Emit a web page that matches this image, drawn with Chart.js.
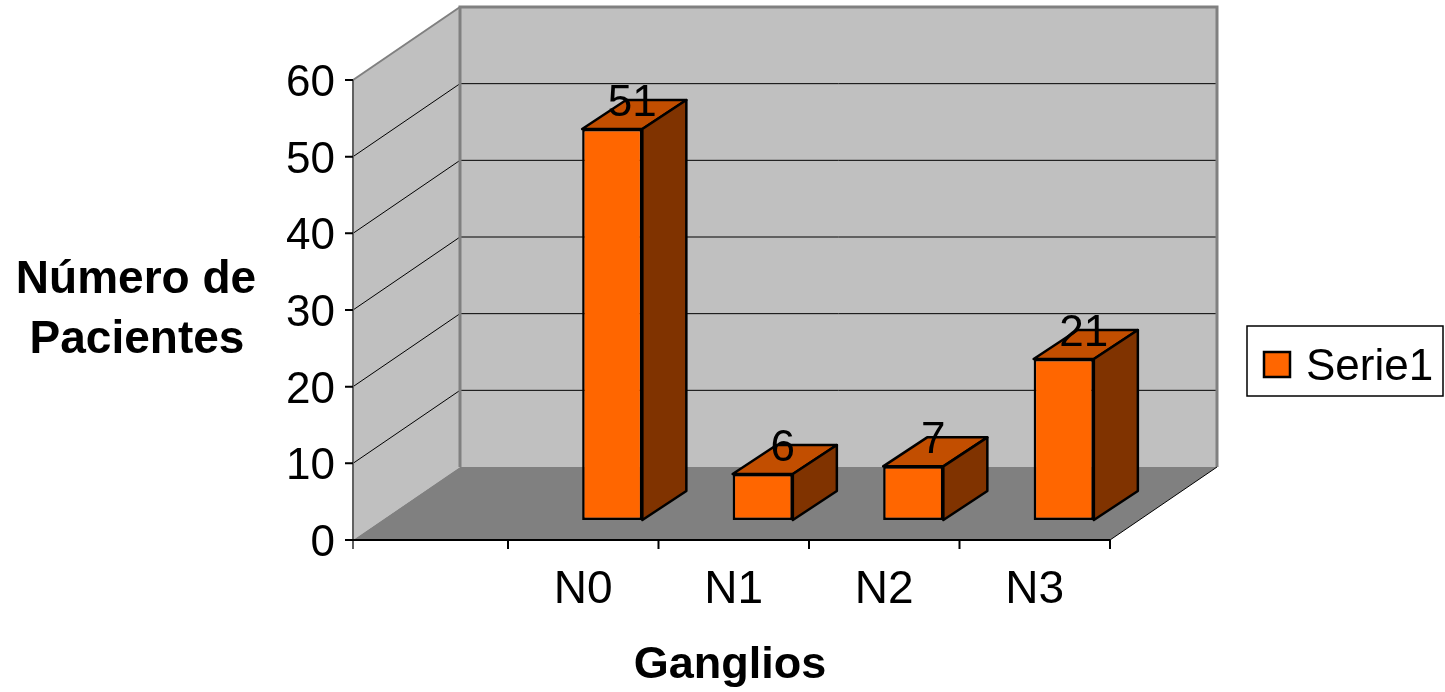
<!DOCTYPE html>
<html>
<head>
<meta charset="utf-8">
<script src="https://cdn.jsdelivr.net/npm/chart.js@4.4.1/dist/chart.umd.min.js"></script>
<style>
  html, body { margin: 0; padding: 0; background: #ffffff; }
  #wrap { width: 1445px; height: 692px; }
</style>
</head>
<body>
<div id="wrap"><canvas id="chart" width="1445" height="692"></canvas></div>
<script>
// Ganglios: number of patients per nodal stage
const categories = ['N0', 'N1', 'N2', 'N3'];
const pacientes = [51, 6, 7, 21];
const yTicks = [0, 10, 20, 30, 40, 50, 60];
const seriesName = 'Serie1';
const xTitle = 'Ganglios';
const yTitle = ['Número de', 'Pacientes'];

const FONT = '"Liberation Sans", Arial, sans-serif';

// 3D projection: bars sit on a plane between the front axis and the back wall
const FRONT = { dx: -29, dy: 20 };   // bar plane -> front axis plane
const BACK = { dx: 78, dy: -53 };    // bar plane -> back wall plane
const BAR_DEPTH = { dx: 44, dy: -29 };
const WALL_LEFT_X = 353;

const wallsPlugin = {
  id: 'walls3d',
  beforeDatasetsDraw(chart) {
    const ctx = chart.ctx;
    const ys = chart.scales.y;
    const xs = chart.scales.x;
    const ca = chart.chartArea;
    const y0 = ys.getPixelForValue(yTicks[0]);
    const yTop = ys.getPixelForValue(yTicks[yTicks.length - 1]);
    const fL = WALL_LEFT_X;
    const fR = ca.right + FRONT.dx;
    const bL = fL + (BACK.dx - FRONT.dx);
    const bR = fR + (BACK.dx - FRONT.dx);
    const fy0 = y0 + FRONT.dy, fyTop = yTop + FRONT.dy;
    const by0 = y0 + BACK.dy, byTop = yTop + BACK.dy;

    ctx.save();
    // back wall
    ctx.fillStyle = '#c0c0c0';
    ctx.fillRect(bL, byTop, bR - bL, by0 - byTop);
    // left wall
    ctx.beginPath();
    ctx.moveTo(fL, fy0); ctx.lineTo(fL, fyTop); ctx.lineTo(bL, byTop); ctx.lineTo(bL, by0);
    ctx.closePath();
    ctx.fill();
    // floor
    ctx.fillStyle = '#808080';
    ctx.beginPath();
    ctx.moveTo(fL, fy0); ctx.lineTo(bL, by0); ctx.lineTo(bR, by0); ctx.lineTo(fR, fy0);
    ctx.closePath();
    ctx.fill();

    // gridlines on walls
    ctx.strokeStyle = '#000000';
    ctx.lineWidth = 1;
    yTicks.slice(1, -1).forEach(v => {
      const py = ys.getPixelForValue(v);
      ctx.beginPath();
      ctx.moveTo(fL, py + FRONT.dy);
      ctx.lineTo(bL, py + BACK.dy);
      ctx.lineTo(bR, py + BACK.dy);
      ctx.stroke();
    });

    // wall edges
    ctx.strokeStyle = '#808080';
    ctx.lineWidth = 3;
    ctx.beginPath();
    ctx.moveTo(bL, by0); ctx.lineTo(bL, byTop); ctx.lineTo(bR, byTop); ctx.lineTo(bR, by0);
    ctx.stroke();
    ctx.lineWidth = 2;
    ctx.beginPath();
    ctx.moveTo(fL, fyTop); ctx.lineTo(bL, byTop);
    ctx.stroke();
    ctx.strokeStyle = '#606060';
    ctx.beginPath();
    ctx.moveTo(fL, fy0 + 9); ctx.lineTo(fL, fyTop);
    ctx.stroke();

    // floor right edge
    ctx.strokeStyle = '#000000';
    ctx.lineWidth = 1;
    ctx.beginPath();
    ctx.moveTo(fR, fy0); ctx.lineTo(bR, by0);
    ctx.stroke();

    // front category axis with tick marks
    ctx.lineWidth = 2;
    ctx.beginPath();
    ctx.moveTo(fL - 8, fy0); ctx.lineTo(fR, fy0);
    ctx.stroke();
    ctx.beginPath();
    for (let i = 0; i <= categories.length; i++) {
      const tx = (i < categories.length
        ? xs.getPixelForValue(i) - (xs.getPixelForValue(1) - xs.getPixelForValue(0)) / 2
        : ca.right) + FRONT.dx;
      ctx.moveTo(tx, fy0); ctx.lineTo(tx, fy0 + 9);
    }
    ctx.stroke();

    // value axis tick marks and labels
    ctx.beginPath();
    yTicks.forEach(v => {
      const py = ys.getPixelForValue(v) + FRONT.dy;
      ctx.moveTo(fL - 8, py); ctx.lineTo(fL, py);
    });
    ctx.stroke();
    ctx.fillStyle = '#000000';
    ctx.font = '44px ' + FONT;
    ctx.textAlign = 'right';
    ctx.textBaseline = 'alphabetic';
    yTicks.forEach(v => {
      const py = ys.getPixelForValue(v) + FRONT.dy;
      ctx.fillText(String(v), fL - 18, py + 16);
    });

    // category labels
    ctx.font = '46px ' + FONT;
    ctx.textAlign = 'center';
    categories.forEach((c, i) => {
      ctx.fillText(c, xs.getPixelForValue(i) + FRONT.dx, 603);
    });

    // axis titles
    ctx.font = 'bold 45px ' + FONT;
    ctx.fillText(xTitle, 730, 678);
    ctx.font = 'bold 46px ' + FONT;
    ctx.fillText(yTitle[0], 136, 293);
    ctx.fillText(yTitle[1], 137, 353);

    // legend
    ctx.lineWidth = 1.5;
    ctx.strokeStyle = '#000000';
    ctx.fillStyle = '#ffffff';
    ctx.fillRect(1247, 326, 196, 70);
    ctx.strokeRect(1247, 326, 196, 70);
    ctx.fillStyle = '#ff6600';
    ctx.lineWidth = 2.5;
    ctx.fillRect(1264, 352, 26, 25);
    ctx.strokeRect(1264, 352, 26, 25);
    ctx.fillStyle = '#000000';
    ctx.font = '44px ' + FONT;
    ctx.textAlign = 'left';
    ctx.fillText(seriesName, 1306, 380);
    ctx.restore();
  },
  afterDatasetsDraw(chart) {
    const ctx = chart.ctx;
    const meta = chart.getDatasetMeta(0);
    ctx.save();
    ctx.lineWidth = 2.5;
    ctx.lineJoin = 'round';
    ctx.strokeStyle = '#000000';
    meta.data.forEach((bar, i) => {
      const p = bar.getProps(['x', 'y', 'base', 'width'], true);
      const L = p.x - p.width / 2, R = p.x + p.width / 2;
      const dx = BAR_DEPTH.dx, dy = BAR_DEPTH.dy;
      // top face
      ctx.fillStyle = '#c24e00';
      ctx.beginPath();
      ctx.moveTo(L, p.y); ctx.lineTo(R, p.y); ctx.lineTo(R + dx, p.y + dy); ctx.lineTo(L + dx, p.y + dy);
      ctx.closePath();
      ctx.fill(); ctx.stroke();
      // side face
      ctx.fillStyle = '#803300';
      ctx.beginPath();
      ctx.moveTo(R, p.y); ctx.lineTo(R + dx, p.y + dy); ctx.lineTo(R + dx, p.base + dy); ctx.lineTo(R, p.base);
      ctx.closePath();
      ctx.fill(); ctx.stroke();
      // value label
      ctx.fillStyle = '#000000';
      ctx.font = '44px ' + FONT;
      ctx.textAlign = 'center';
      ctx.textBaseline = 'alphabetic';
      ctx.fillText(String(pacientes[i]), p.x + 20, p.y - 13);
    });
    ctx.restore();
  }
};

new Chart(document.getElementById('chart'), {
  type: 'bar',
  data: {
    labels: categories,
    datasets: [{
      label: seriesName,
      data: pacientes,
      backgroundColor: '#ff6600',
      borderColor: '#000000',
      borderWidth: 2.5,
      borderSkipped: false,
      barPercentage: 0.4,
      categoryPercentage: 1
    }]
  },
  options: {
    responsive: false,
    animation: false,
    layout: { padding: { left: 537, right: 306, top: 60, bottom: 172 } },
    plugins: {
      legend: { display: false },
      tooltip: { enabled: false },
      title: { display: false }
    },
    scales: {
      x: { display: false, offset: true },
      y: { display: false, min: yTicks[0], max: yTicks[yTicks.length - 1], ticks: { stepSize: 10 } }
    }
  },
  plugins: [wallsPlugin]
});
</script>
</body>
</html>
